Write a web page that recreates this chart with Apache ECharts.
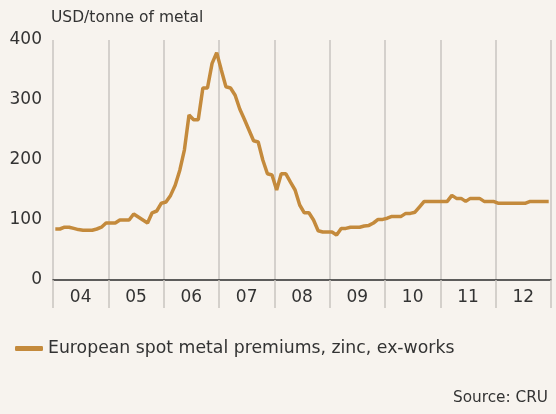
<!DOCTYPE html>
<html>
<head>
<meta charset="utf-8">
<script src="https://cdn.jsdelivr.net/npm/echarts@6/dist/echarts.min.js"></script>
<style>
html,body{margin:0;padding:0;background:#f7f3ee;}
#chart{width:556px;height:414px;}
</style>
</head>
<body>
<div id="chart"></div>
<script>
const years = ['04','05','06','07','08','09','10','11','12'];
const yTicks = [0, 100, 200, 300, 400];
const v2004 = [85, 85, 88, 88, 86, 84, 83, 83, 83, 85, 88, 95];
const v2005 = [95, 95, 100, 100, 100, 110, 105, 100, 95, 112, 115, 128];
const v2006 = [130, 141, 158, 183, 217, 275, 267, 267, 320, 320, 361, 379];
const v2007 = [350, 322, 320, 308, 285, 268, 250, 232, 230, 200, 177, 175];
const v2008 = [150, 177, 177, 163, 150, 125, 112, 112, 100, 82, 80, 80];
const v2009 = [80, 75, 86, 86, 88, 88, 88, 90, 91, 95, 101, 101];
const v2010 = [103, 106, 106, 106, 111, 111, 113, 122, 131, 131, 131, 131];
const v2011 = [131, 131, 141, 136, 136, 131, 136, 136, 136, 131, 131, 131];
const v2012 = [128, 128, 128, 128, 128, 128, 128, 131, 131, 131, 131, 131];
const seriesName = 'European spot metal premiums, zinc, ex-works';

const monthly = [].concat(v2004, v2005, v2006, v2007, v2008, v2009, v2010, v2011, v2012);
const lineData = monthly.map((v, i) => [i + 0.5, v]);

const FONT = 'DejaVu Sans';
const TXT = '#333333';
const GRID = '#c9c5c0';
const LINE = '#c48a3c';

const chart = echarts.init(document.getElementById('chart'), null, {renderer: 'canvas'});
chart.setOption({
  backgroundColor: '#f7f3ee',
  animation: false,
  title: {
    text: 'USD/tonne of metal',
    left: 46, top: 5,
    textStyle: {fontFamily: FONT, fontSize: 15.5, fontWeight: 'normal', color: TXT}
  },
  legend: {
    left: 10, top: 335,
    icon: 'roundRect', itemWidth: 28, itemHeight: 5, itemGap: 10,
    textStyle: {fontFamily: FONT, fontSize: 17.3, color: TXT},
    data: [{name: seriesName, itemStyle: {color: LINE}}]
  },
  graphic: [{
    type: 'text', right: 8, top: 391,
    style: {text: 'Source: CRU', fontFamily: FONT, fontSize: 15.3, fill: TXT}
  }],
  grid: {left: 53, right: 5, top: 40, bottom: 134, containLabel: false},
  xAxis: [{
    type: 'category',
    data: years,
    boundaryGap: true,
    axisLine: {show: true, lineStyle: {color: '#2b2b2b', width: 1.5}},
    axisTick: {show: true, length: 28, lineStyle: {color: GRID, width: 1.5}},
    splitLine: {show: true, lineStyle: {color: GRID, width: 1.5}},
    axisLabel: {fontFamily: FONT, fontSize: 17, color: TXT, margin: 9}
  }, {
    type: 'value', show: false, min: 0, max: monthly.length
  }],
  yAxis: {
    type: 'value', min: yTicks[0], max: yTicks[yTicks.length - 1], interval: 100,
    axisLine: {show: false}, axisTick: {show: false}, splitLine: {show: false},
    axisLabel: {fontFamily: FONT, fontSize: 17, color: TXT, margin: 11}
  },
  series: [{
    name: seriesName,
    type: 'line',
    xAxisIndex: 1,
    data: lineData,
    symbol: 'none',
    lineStyle: {color: LINE, width: 3.5},
    itemStyle: {color: LINE},
    z: 5
  }]
});
</script>
</body>
</html>
